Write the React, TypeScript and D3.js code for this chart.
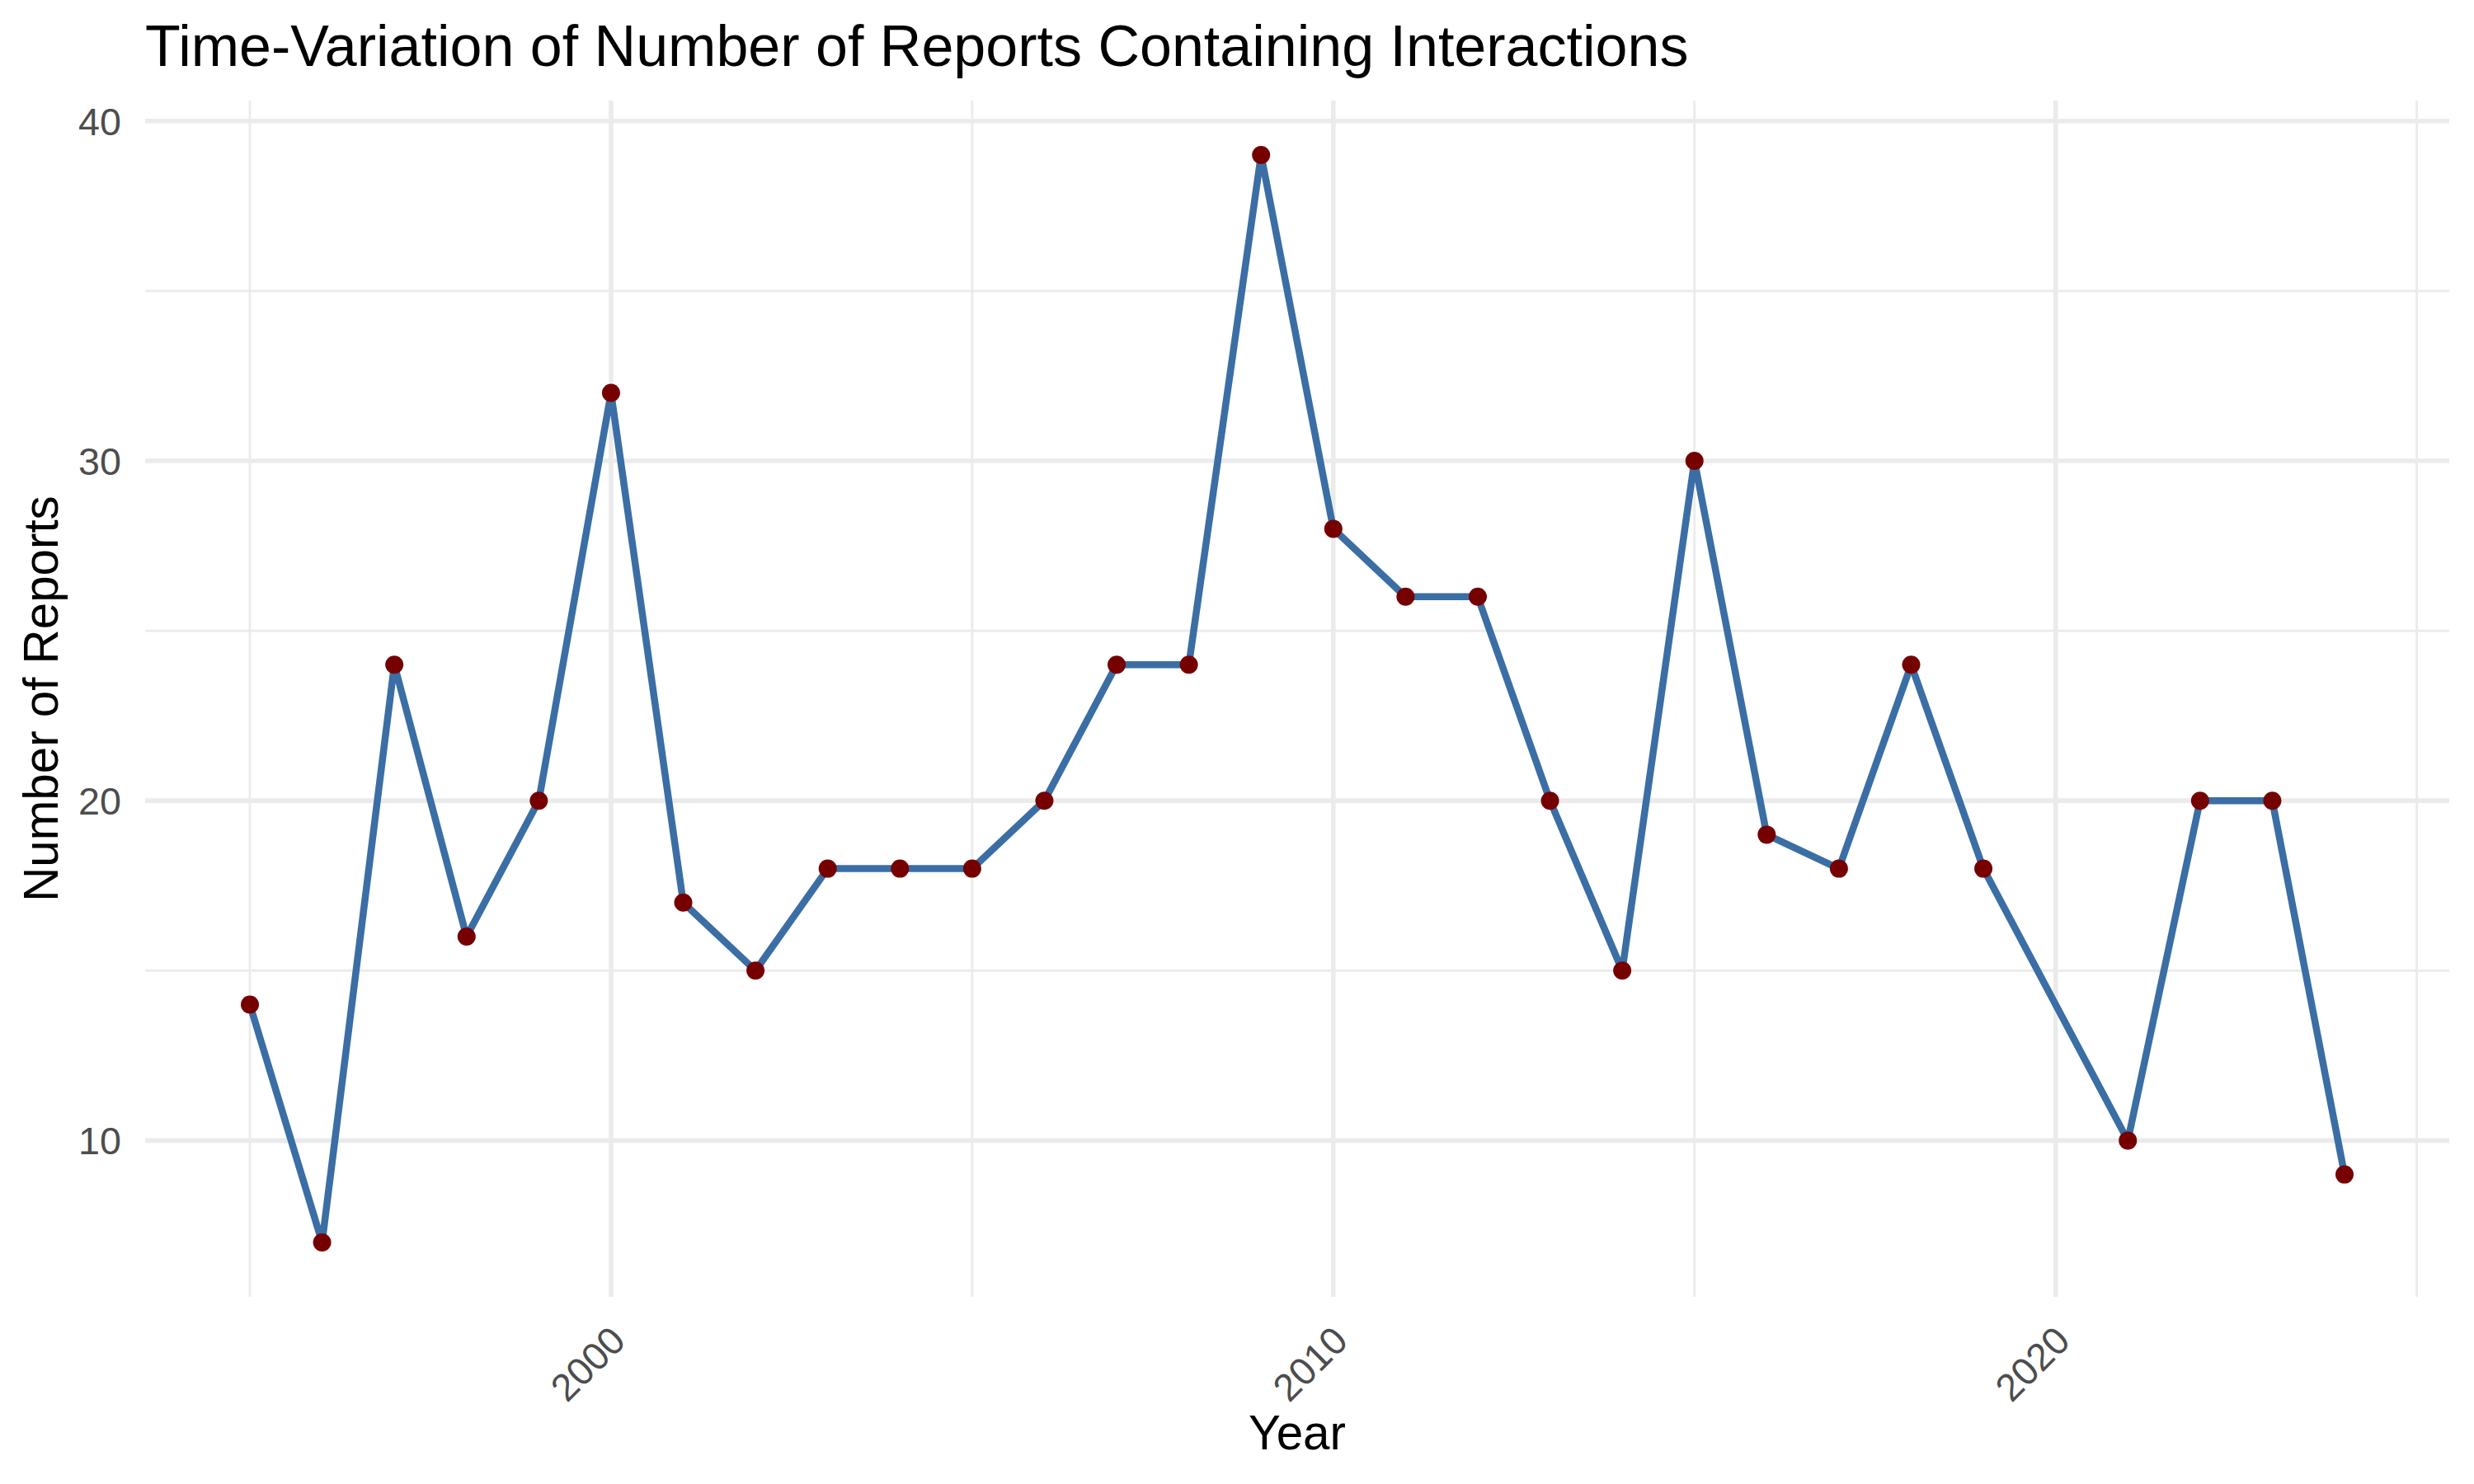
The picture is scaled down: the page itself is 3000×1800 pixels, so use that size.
import React from "react";
import * as d3 from "d3";

// yearly counts (2020 has no row in the data, the line just joins 2019 to 2021)
const years = [
  1995, 1996, 1997, 1998, 1999, 2000, 2001, 2002, 2003, 2004, 2005, 2006, 2007, 2008, 2009,
  2010, 2011, 2012, 2013, 2014, 2015, 2016, 2017, 2018, 2019, 2021, 2022, 2023, 2024,
];
const reports = [
  14, 7, 24, 16, 20, 32, 17, 15, 18, 18, 18, 20, 24, 24, 39,
  28, 26, 26, 20, 15, 30, 19, 18, 24, 18, 10, 20, 20, 9,
];

const xMajor = [2000, 2010, 2020];
const xMinor = [1995, 2005, 2015, 2025];
const yMajor = [10, 20, 30, 40];
const yMinor = [15, 25, 35];

const title = "Time-Variation of Number of Reports Containing Interactions";
const xTitle = "Year";
const yTitle = "Number of Reports";

const W = 3000;
const H = 1800;
const left = 176;
const right = 2970;
const top = 122;
const bottom = 1573;

const font = "'Liberation Sans', Arial, Helvetica, sans-serif";
const gridColor = "#EBEBEB";
const lineColor = "#3A6EA5";
const pointColor = "#760000";

const App: React.FC = () => {
  const data = years.map((y, i) => ({ year: y, n: reports[i] }));

  // ggplot-style 5% expansion on both axes
  const xExt = d3.extent(years) as [number, number];
  const yExt = d3.extent(reports) as [number, number];
  const xPad = (xExt[1] - xExt[0]) * 0.05;
  const yPad = (yExt[1] - yExt[0]) * 0.05;

  const x = d3
    .scaleLinear()
    .domain([xExt[0] - xPad, xExt[1] + xPad])
    .range([left, right]);
  const y = d3
    .scaleLinear()
    .domain([yExt[0] - yPad, yExt[1] + yPad])
    .range([bottom, top]);

  const line = d3
    .line<{ year: number; n: number }>()
    .x((d) => x(d.year))
    .y((d) => y(d.n));

  return (
    <svg
      width={W}
      height={H}
      style={{ position: "absolute", left: 0, top: 0, background: "#fff" }}
      fontFamily={font}
    >
      <rect width={W} height={H} fill="#fff" />

      {/* minor grid */}
      {yMinor.map((v) => (
        <line key={"ym" + v} x1={left} x2={right} y1={y(v)} y2={y(v)} stroke={gridColor} strokeWidth={2.8} />
      ))}
      {xMinor.map((v) => (
        <line key={"xm" + v} x1={x(v)} x2={x(v)} y1={top} y2={bottom} stroke={gridColor} strokeWidth={2.8} />
      ))}
      {/* major grid */}
      {yMajor.map((v) => (
        <line key={"yM" + v} x1={left} x2={right} y1={y(v)} y2={y(v)} stroke={gridColor} strokeWidth={5.6} />
      ))}
      {xMajor.map((v) => (
        <line key={"xM" + v} x1={x(v)} x2={x(v)} y1={top} y2={bottom} stroke={gridColor} strokeWidth={5.6} />
      ))}

      <path d={line(data) || ""} fill="none" stroke={lineColor} strokeWidth={8.5} strokeLinejoin="round" />

      {data.map((d) => (
        <circle key={d.year} cx={x(d.year)} cy={y(d.n)} r={11} fill={pointColor} />
      ))}

      {/* y tick labels */}
      {yMajor.map((v) => (
        <text key={"yl" + v} x={147} y={y(v)} dy="0.36em" textAnchor="end" fontSize={46.7} fill="#4D4D4D">
          {v}
        </text>
      ))}

      {/* x tick labels, rotated 45 deg */}
      {xMajor.map((v) => (
        <text
          key={"xl" + v}
          x={0}
          y={0}
          textAnchor="end"
          fontSize={46.7}
          fill="#4D4D4D"
          transform={`translate(${x(v) + 20},1629) rotate(-45)`}
        >
          {v}
        </text>
      ))}

      <text x={(left + right) / 2} y={1758} textAnchor="middle" fontSize={58.3} fill="#000">
        {xTitle}
      </text>
      <text
        textAnchor="middle"
        fontSize={58.3}
        fill="#000"
        transform={`translate(70,${(top + bottom) / 2}) rotate(-90)`}
      >
        {yTitle}
      </text>

      <text x={left} y={80} fontSize={70} fill="#000">
        {title}
      </text>
    </svg>
  );
};

export default App;
